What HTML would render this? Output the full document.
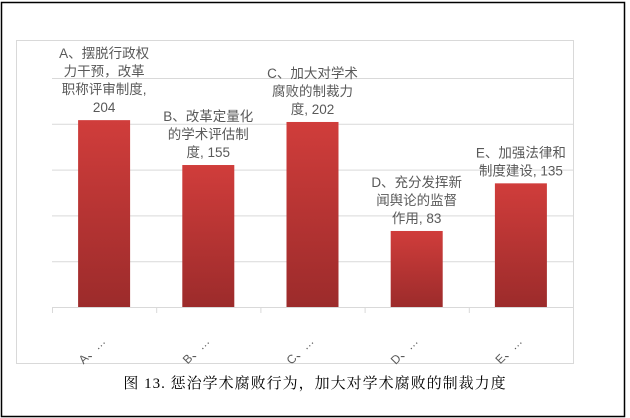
<!DOCTYPE html>
<html><head><meta charset="utf-8"><style>
body{margin:0;background:#fff;width:630px;height:418px;overflow:hidden}
svg{display:block}
text{font-family:"Liberation Sans","Noto Sans CJK SC",sans-serif}
</style></head><body>
<svg width="630" height="418" id="chart">
<defs><linearGradient id="g" x1="0" y1="0" x2="0" y2="1"><stop offset="0" stop-color="#d03d3b"/><stop offset="1" stop-color="#9c2b2b"/></linearGradient></defs>
<rect x="1.5" y="2.5" width="623" height="414" fill="#fff" stroke="#000" stroke-width="1.5"/>
<rect x="16.5" y="40.5" width="557" height="323" fill="#fff" stroke="#d9d9d9"/>
<g id="grid"></g><g id="bars"></g><g id="labels"></g><g id="axis"></g>
<text x="315" y="388" text-anchor="middle" font-size="15" fill="#000" style="font-family:'Liberation Serif','Noto Serif CJK SC',serif;letter-spacing:1px">图 13.  惩治学术腐败行为，加大对学术腐败的制裁力度</text>
</svg>
<script>
const categories=["A","B","C","D","E"];
const values=[204,155,202,83,135];
const labelLines=[["A、摆脱行政权","力干预，改革","职称评审制度,","204"],["B、改革定量化","的学术评估制","度, 155"],["C、加大对学术","腐败的制裁力","度, 202"],["D、充分发挥新","闻舆论的监督","作用, 83"],["E、加强法律和","制度建设, 135"]];
const gridTicks=[0,50,100,150,200,250];
const NS="http://www.w3.org/2000/svg";
const x0=52,x1=573,y0=307,yMax=250,plotH=229;
const bw=(x1-x0)/categories.length;
const y=v=>y0-v/yMax*plotH;
const xc=i=>x0+bw*(i+0.5);
function mk(t,a,p){const e=document.createElementNS(NS,t);for(const k in a)e.setAttribute(k,a[k]);p.appendChild(e);return e;}
const G=document.getElementById('grid'),B=document.getElementById('bars'),L=document.getElementById('labels'),A=document.getElementById('axis');
gridTicks.forEach(t=>{if(t===0)return;const l=mk('line',{x1:x0,x2:x1,y1:y(t)+0.5,y2:y(t)+0.5,stroke:'#d9d9d9'},G);

});
values.forEach((v,i)=>{
const r=mk('rect',{x:xc(i)-26,y:y(v),width:52,height:y0-y(v),fill:'url(#g)'},B);


const lines=labelLines[i];
const g=mk('g',{},L);


lines.forEach((s,j)=>{const t=mk('text',{x:xc(i),y:y(v)-8-(lines.length-1-j)*18,'text-anchor':'middle','font-size':'13.5',fill:'#595959'},g);t.textContent=s;});
const tl=mk('text',{x:xc(i)+2,y:342,'text-anchor':'end','font-size':'12',fill:'#595959',transform:`rotate(-45 ${xc(i)+2} 342)`},A);
tl.textContent=categories[i]+"、…";


});
const ax=mk('line',{x1:x0,x2:x1,y1:y0+0.5,y2:y0+0.5,stroke:'#d9d9d9'},A);


for(let i=0;i<=categories.length;i++){const tk=mk('line',{x1:x0+bw*i+0.5,x2:x0+bw*i+0.5,y1:y0,y2:y0+6,stroke:'#d9d9d9'},A);

}
</script>
</body></html>
